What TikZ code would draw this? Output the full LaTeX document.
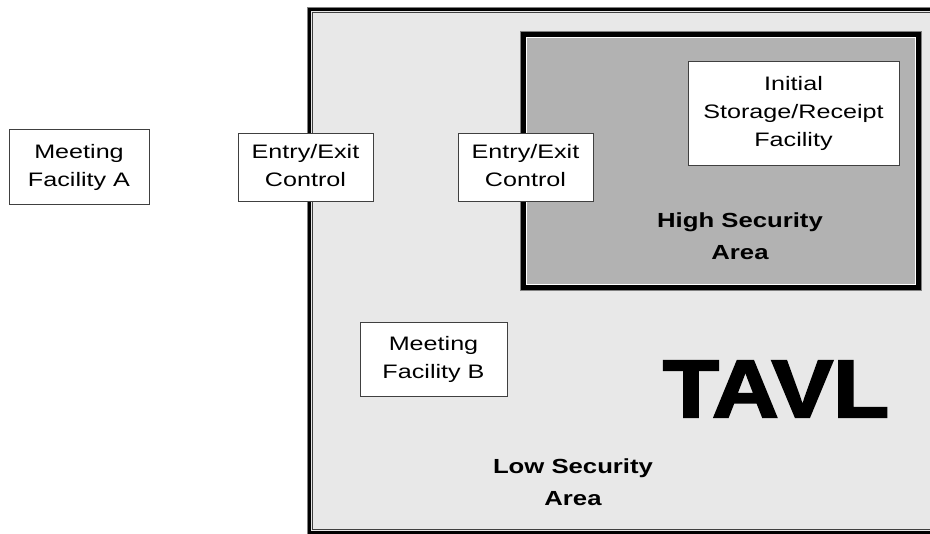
\documentclass[tikz,border=0pt]{standalone}
\usepackage{fontspec}
\usepackage{graphicx}
\setmainfont{Liberation Sans}
\newfontfamily\heavyfont{Liberation Sans Bold}[FakeBold=2.5]
\definecolor{lowfill}{RGB}{232,232,232}
\definecolor{highfill}{RGB}{178,178,178}
\definecolor{boxline}{RGB}{64,64,64}
\newcommand\wtxt[1]{\scalebox{1.29}[1]{\begin{tabular}{@{}c@{}}#1\end{tabular}}}
\newcommand\wbtxt[1]{\scalebox{1.26}[1]{\begin{tabular}{@{}c@{}}#1\end{tabular}}}
\begin{document}
\begin{tikzpicture}[x=1pt,y=-1pt,
  facility/.style={draw=boxline, line width=0.9pt, fill=white, inner sep=0pt,
    font=\fontsize{19.5}{28}\selectfont},
  arealabel/.style={inner sep=0pt, font=\bfseries\fontsize{20.4}{32.7}\selectfont}]
\useasboundingbox (0,0) rectangle (930,534);
\clip (0,0) rectangle (930,534);
\fill[white] (0,0) rectangle (930,534);
% low security area (TAVL)
\fill[lowfill] (310,10) rectangle (940,532);
\draw[gray, line width=0.6pt] (940,7.7) -- (307.7,7.7) -- (307.7,540);
\draw[black, line width=3pt] (940,9.5) -- (309.5,9.5) -- (309.5,532.5) -- (940,532.5);
\draw[boxline, line width=1pt] (940,12.5) -- (312.5,12.5) -- (312.5,529.5) -- (940,529.5);
% high security area
\fill[highfill] (521,32) rectangle (921,290);
\draw[gray, line width=0.6pt] (520.3,31.3) rectangle (921.7,290.7);
\draw[black, line width=5pt] (523.5,34.5) rectangle (918.5,287.5);
\draw[white, line width=0.8pt] (526.4,37.4) rectangle (915.6,284.6);
% facilities
\node[facility, minimum width=140pt, minimum height=75pt] (mfa) at (79,166.5) {\wtxt{Meeting\\Facility A}};
\node[facility, minimum width=135pt, minimum height=68pt] (eec1) at (305.5,167) {\wtxt{Entry/Exit\\Control}};
\node[facility, minimum width=135pt, minimum height=68pt] (eec2) at (525.5,167) {\wtxt{Entry/Exit\\Control}};
\node[facility, minimum width=211pt, minimum height=104pt] (isr) at (793.5,113) {\wtxt{Initial\\Storage/Receipt\\Facility}};
\node[facility, minimum width=147pt, minimum height=74pt] (mfb) at (433.5,359) {\wtxt{Meeting\\Facility B}};
% labels
\node[arealabel] (hsa) at (740,237.1) {\wbtxt{High Security\\Area}};
\node[arealabel] (lsa) at (573,483.1) {\wbtxt{Low Security\\Area}};
\node[inner sep=0pt] (tavl) at (776,389) {\resizebox{226pt}{56pt}{\heavyfont TAVL}};
\end{tikzpicture}
\end{document}
